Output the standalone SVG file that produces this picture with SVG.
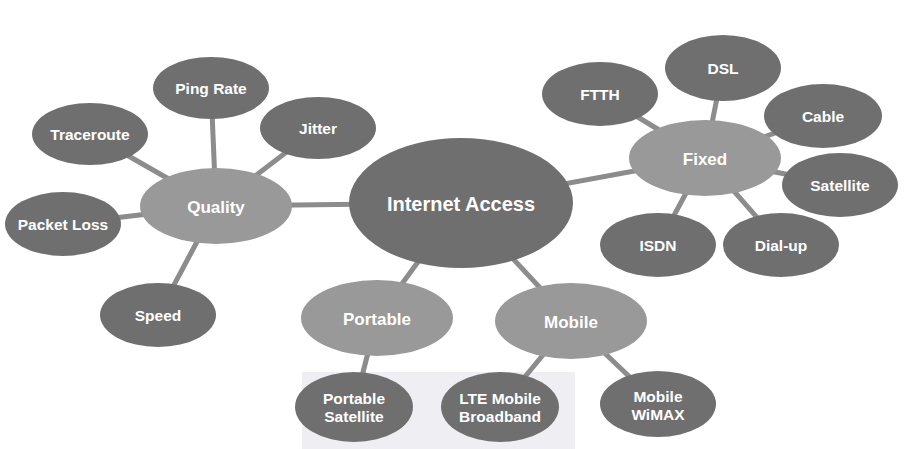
<svg xmlns="http://www.w3.org/2000/svg" width="924" height="449" viewBox="0 0 924 449">
<style>
.bg{fill:#ffffff}
.wm{fill:#efeff3}
.edge{stroke:#8c8c8c;stroke-width:5;fill:none}
.leaf{fill:#6f6f6f}
.mid{fill:#999999}
.hub{fill:#6f6f6f}
text{font-family:"Liberation Sans",Arial,sans-serif;font-weight:bold;fill:#ffffff;text-anchor:middle;dominant-baseline:central}
.t15{font-size:15.5px}
.t17{font-size:17px}
.t20{font-size:20px}
</style>
<rect class="bg" x="0" y="0" width="924" height="449"/>
<rect class="wm" x="302" y="372" width="273" height="77"/>
<g id="connectors">
<line class="edge" x1="461" y1="203" x2="216" y2="206"/>
<line class="edge" x1="461" y1="203" x2="705" y2="158"/>
<line class="edge" x1="461" y1="203" x2="377" y2="318"/>
<line class="edge" x1="461" y1="203" x2="571" y2="321"/>
<line class="edge" x1="216" y1="206" x2="211" y2="88"/>
<line class="edge" x1="216" y1="206" x2="90" y2="134"/>
<line class="edge" x1="216" y1="206" x2="318" y2="128"/>
<line class="edge" x1="216" y1="206" x2="63" y2="224"/>
<line class="edge" x1="216" y1="206" x2="158" y2="315"/>
<line class="edge" x1="705" y1="158" x2="600" y2="94"/>
<line class="edge" x1="705" y1="158" x2="723" y2="68"/>
<line class="edge" x1="705" y1="158" x2="823" y2="116"/>
<line class="edge" x1="705" y1="158" x2="840" y2="185"/>
<line class="edge" x1="705" y1="158" x2="658" y2="245"/>
<line class="edge" x1="705" y1="158" x2="781" y2="245"/>
<line class="edge" x1="377" y1="318" x2="354" y2="407"/>
<line class="edge" x1="571" y1="321" x2="500" y2="407"/>
<line class="edge" x1="571" y1="321" x2="658" y2="404"/>
</g>
<g id="internet-access"><ellipse class="hub" cx="461" cy="203" rx="112" ry="65"/><text class="t20" x="461" y="204">Internet Access</text></g>
<g id="quality"><ellipse class="mid" cx="216" cy="206" rx="76" ry="38"/><text class="t17" x="216" y="207">Quality</text></g>
<g id="fixed"><ellipse class="mid" cx="705" cy="158" rx="76" ry="38"/><text class="t17" x="705" y="159">Fixed</text></g>
<g id="portable"><ellipse class="mid" cx="377" cy="318" rx="76" ry="38"/><text class="t17" x="377" y="319">Portable</text></g>
<g id="mobile"><ellipse class="mid" cx="571" cy="321" rx="76" ry="38"/><text class="t17" x="571" y="322">Mobile</text></g>
<g id="ping-rate"><ellipse class="leaf" cx="211" cy="88" rx="58" ry="31"/><text class="t15" x="211" y="88">Ping Rate</text></g>
<g id="traceroute"><ellipse class="leaf" cx="90" cy="134" rx="58" ry="31"/><text class="t15" x="90" y="134">Traceroute</text></g>
<g id="jitter"><ellipse class="leaf" cx="318" cy="128" rx="58" ry="31"/><text class="t15" x="318" y="128">Jitter</text></g>
<g id="packet-loss"><ellipse class="leaf" cx="63" cy="224" rx="58" ry="32"/><text class="t15" x="63" y="224">Packet Loss</text></g>
<g id="speed"><ellipse class="leaf" cx="158" cy="315" rx="58" ry="32"/><text class="t15" x="158" y="315">Speed</text></g>
<g id="ftth"><ellipse class="leaf" cx="600" cy="94" rx="58" ry="32"/><text class="t15" x="600" y="94">FTTH</text></g>
<g id="dsl"><ellipse class="leaf" cx="723" cy="68" rx="58" ry="33"/><text class="t15" x="723" y="68">DSL</text></g>
<g id="cable"><ellipse class="leaf" cx="823" cy="116" rx="59" ry="32"/><text class="t15" x="823" y="116">Cable</text></g>
<g id="satellite"><ellipse class="leaf" cx="840" cy="185" rx="58" ry="32"/><text class="t15" x="840" y="185">Satellite</text></g>
<g id="isdn"><ellipse class="leaf" cx="658" cy="245" rx="58" ry="32"/><text class="t15" x="658" y="245">ISDN</text></g>
<g id="dial-up"><ellipse class="leaf" cx="781" cy="245" rx="58" ry="32"/><text class="t15" x="781" y="245">Dial-up</text></g>
<g id="portable-satellite"><ellipse class="leaf" cx="354" cy="407" rx="59" ry="35"/><text class="t15" x="354" y="398">Portable</text><text class="t15" x="354" y="416">Satellite</text></g>
<g id="lte-mobile-broadband"><ellipse class="leaf" cx="500" cy="407" rx="59" ry="35"/><text class="t15" x="500" y="398">LTE Mobile</text><text class="t15" x="500" y="416">Broadband</text></g>
<g id="mobile-wimax"><ellipse class="leaf" cx="658" cy="404" rx="58" ry="33"/><text class="t15" x="658" y="396">Mobile</text><text class="t15" x="658" y="414">WiMAX</text></g>
</svg>
